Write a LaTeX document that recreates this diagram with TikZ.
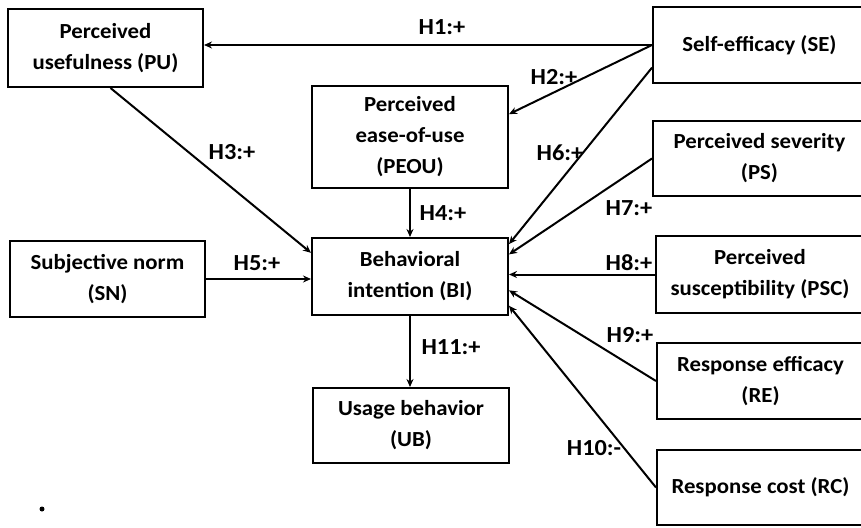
\documentclass[tikz,border=0pt]{standalone}
\usepackage{fontspec}
\setmainfont{Carlito}[FakeStretch=1.06]
\usetikzlibrary{calc,arrows.meta}
\begin{document}
\begin{tikzpicture}[x=1pt,y=-1pt,
  box/.style={draw,line width=2pt,align=center,inner sep=0pt,
    font=\fontsize{21.5}{31}\selectfont\bfseries},
  hyp/.style={font=\fontsize{23}{26}\selectfont\bfseries,inner sep=0pt},
  link/.style={line width=2pt,-{Stealth[length=8pt,width=7pt]}}]
\useasboundingbox (0,0) rectangle (861,527);
\clip (0,0) rectangle (861,527);

% constructs
\node[box,minimum width=195pt,minimum height=78pt] (pu) at (105.5,48) {Perceived\\usefulness (PU)};
\node[box,minimum width=196pt,minimum height=102pt] (peou) at (410,137) {Perceived\\ease-of-use\\(PEOU)};
\node[box,minimum width=196pt,minimum height=77pt] (bi) at (410,276.5) {Behavioral\\intention (BI)};
\node[box,minimum width=195pt,minimum height=76pt] (sn) at (107.5,279) {Subjective norm\\(SN)};
\node[box,minimum width=196pt,minimum height=75pt] (ub) at (411,425.5) {Usage behavior\\(UB)};
\node[box,minimum width=213pt,minimum height=76pt] (se) at (759.5,45) {Self-efficacy (SE)};
\node[box,minimum width=213pt,minimum height=75pt] (ps) at (759.5,158.5) {Perceived severity\\(PS)};
\node[box,minimum width=208pt,minimum height=77pt] (psc) at (760,274.5) {Perceived\\susceptibility (PSC)};
\node[box,minimum width=207pt,minimum height=76pt] (re) at (760.5,381) {Response efficacy\\(RE)};
\node[box,minimum width=207pt,minimum height=75pt] (rc) at (760.5,487.5) {Response cost (RC)};

% hypothesised paths
\draw[link] (se.west) -- (se.west -| pu.east);
\draw[link] (se.west) -- ($(peou.north east)!0.28!(peou.south east)$);
\draw[link] ($(pu.south)+(5,0)$) -- ($(bi.north west)!0.2!(bi.south west)$);
\draw[link] (peou.south) -- (bi.north);
\draw[link] (sn.east) -- (sn.east -| bi.west);
\draw[link] ($(se.north west)!0.79!(se.south west)$) -- ($(bi.north east)!0.09!(bi.south east)$);
\draw[link] (ps.west) -- ($(bi.north east)!0.22!(bi.south east)$);
\draw[link] (psc.west) -- (psc.west -| bi.east);
\draw[link] (re.west) -- ($(bi.north east)!0.675!(bi.south east)$);
\draw[link] (rc.west) -- ($(bi.north east)!0.87!(bi.south east)$);
\draw[link] (bi.south) -- (bi.south |- ub.north);

% path labels
\node[hyp] (h1) at (442,27) {H1:+};
\node[hyp] (h2) at (554,77) {H2:+};
\node[hyp] (h3) at (232,152) {H3:+};
\node[hyp] (h4) at (443,213) {H4:+};
\node[hyp] (h5) at (257,263) {H5:+};
\node[hyp] (h6) at (560,153) {H6:+};
\node[hyp] (h7) at (629,208) {H7:+};
\node[hyp] (h8) at (629,263) {H8:+};
\node[hyp] (h9) at (630,335) {H9:+};
\node[hyp] (h10) at (594,448) {H10:-};
\node[hyp] (h11) at (451,347) {H11:+};

% stray mark
\fill (42,509) circle (2.5pt);
\end{tikzpicture}
\end{document}
